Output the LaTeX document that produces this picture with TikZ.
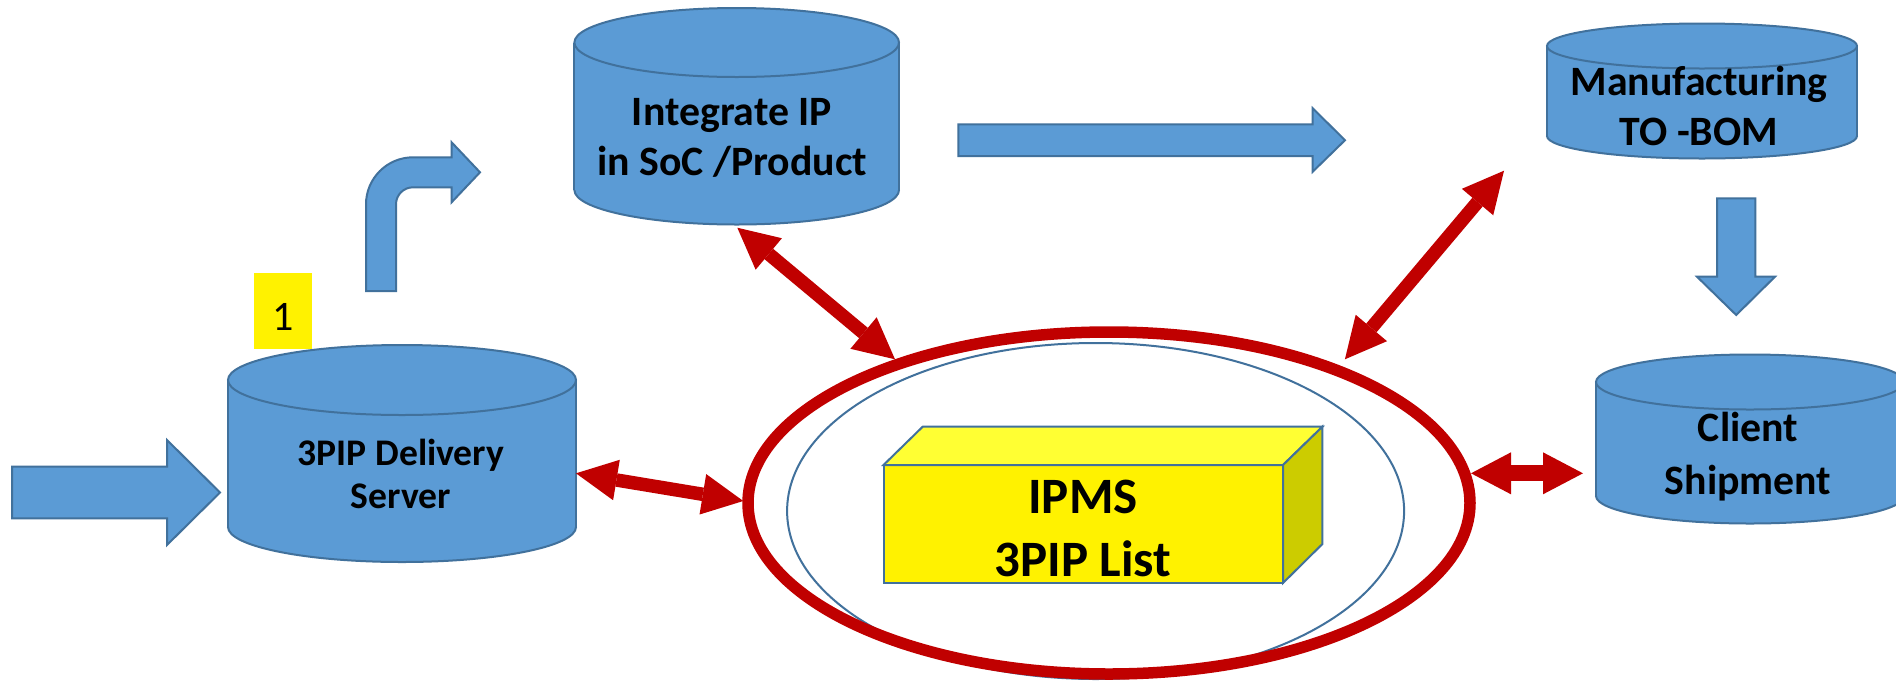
\documentclass[tikz,border=0pt]{standalone}
\usepackage{fontspec}
\setmainfont{Carlito}
\usetikzlibrary{arrows.meta}
\definecolor{cylblue}{HTML}{5B9BD5}
\definecolor{edgeblue}{HTML}{41719C}
\definecolor{darkred}{HTML}{C00000}
\definecolor{cubetop}{HTML}{FFFF33}
\definecolor{cubeside}{HTML}{CCCC00}
\tikzset{
  cylfill/.style={fill=cylblue},
  cyledge/.style={draw=edgeblue, line width=2pt},
  blockarrow/.style={fill=cylblue, draw=edgeblue, line width=2pt, line join=miter},
  redarrow/.style={draw=darkred, line width=13.5pt,
    {Triangle[length=41pt,width=41pt,line width=0pt]}-{Triangle[length=41pt,width=41pt,line width=0pt]}},
  lbl/.style={align=center, anchor=base, inner sep=0pt},
}
\newcommand{\mycyl}[5]{%
  \fill[cylfill] (#1,#4) ellipse [x radius=#2, y radius=#5];
  \fill[cylfill] (#1-#2,#3) rectangle (#1+#2,#4);
  \begin{scope}
    \clip (#1-#2-5,#4) rectangle (#1+#2+5,#4+#5+5);
    \draw[cyledge] (#1,#4) ellipse [x radius=#2, y radius=#5];
  \end{scope}
  \draw[cyledge] (#1-#2,#3) -- (#1-#2,#4) (#1+#2,#3) -- (#1+#2,#4);
  \filldraw[cylfill,cyledge] (#1,#3) ellipse [x radius=#2, y radius=#5];
}
\begin{document}
\begin{tikzpicture}[x=1pt,y=-1pt]
\useasboundingbox (0,0) rectangle (1896,681);
\fill[white] (0,0) rectangle (1896,681);

% cylinders
\mycyl{402}{174}{380}{527}{35}
\mycyl{736.7}{162.3}{42.5}{190}{34.5}
\mycyl{1702}{155}{46}{136}{22.5}
\mycyl{1750}{154}{382}{496}{27.5}

% text of cylinders (anchor base = baseline of last line)
\node[lbl, font=\bfseries\fontsize{37.6}{43}\selectfont] (t3pip) at (401,508) {3PIP Delivery\\Server};
\node[lbl, font=\bfseries\fontsize{41.8}{50.7}\selectfont] (tint) at (732,175.7) {Integrate IP\\in SoC /Product};
\node[lbl, font=\bfseries\fontsize{41.8}{50}\selectfont] (tman) at (1699,145) {Manufacturing\\TO -BOM};
\node[lbl, font=\bfseries\fontsize{41.8}{52.3}\selectfont] (tcli) at (1748,494) {Client\\Shipment};

% yellow number tag
\node[anchor=base, fill=yellow, inner sep=0pt, minimum width=57.3pt,
      text height=57pt, text depth=19pt, font=\fontsize{42}{50}\selectfont] (one) at (283,330) {1};

% blue block arrows
\draw[blockarrow] (12,466.7) -- (167,466.7) -- (167,440) -- (220,492.5) -- (167,545) -- (167,518.3) -- (12,518.3) -- cycle;
\draw[blockarrow] (366,291) -- (366,204.3) .. controls (366,178.4) and (387.1,157.3) .. (413,157.3)
  -- (451.6,157.3) -- (451.6,142.3) -- (480,172.3) -- (451.6,202.3) -- (451.6,187.3) -- (413,187.3)
  .. controls (403.6,187.3) and (396,194.9) .. (396,204.3) -- (396,291) -- cycle;
\draw[blockarrow] (958.3,124.3) -- (1312.7,124.3) -- (1312.7,108.3) -- (1345,140.2) -- (1312.7,171.7) -- (1312.7,156) -- (958.3,156) -- cycle;
\draw[blockarrow] (1717,198.3) -- (1755.4,198.3) -- (1755.4,276.7) -- (1775,276.7) -- (1736.2,315) -- (1697,276.7) -- (1717,276.7) -- cycle;

% IPMS ellipses
\draw[edgeblue, line width=2pt] (1095.6,511) ellipse [x radius=308.5, y radius=168];
\draw[darkred, line width=11.5pt] (1109,503) ellipse [x radius=361, y radius=171];

% cube
\filldraw[fill=yellow, draw=edgeblue, line width=2pt, line join=miter] (883.5,465) rectangle (1283,583);
\filldraw[fill=cubetop, draw=edgeblue, line width=2pt, line join=miter] (883.5,465) -- (922.7,426.7) -- (1322.4,426.7) -- (1283,465) -- cycle;
\filldraw[fill=cubeside, draw=edgeblue, line width=2pt, line join=miter] (1283,465) -- (1322.4,426.7) -- (1322.4,544) -- (1283,583) -- cycle;
\node[lbl, font=\bfseries\fontsize{51}{63.7}\selectfont] (tipms) at (1083,576.7) {IPMS\\3PIP List};

% red connector ends
\coordinate (intA) at (737.3,227.7);
\coordinate (intB) at (895,359.3);
\coordinate (delA) at (576,473.3);
\coordinate (delB) at (743.3,501);
\coordinate (manA) at (1504,170.7);
\coordinate (manB) at (1344.9,359.3);
\coordinate (cliA) at (1471,473.3);
\coordinate (cliB) at (1583,473.3);

\draw[redarrow] (intA) -- (intB);
\draw[redarrow] (delA) -- (delB);
\draw[redarrow] (manA) -- (manB);
\draw[draw=darkred, line width=16pt,
  {Triangle[length=40pt,width=42pt,line width=0pt]}-{Triangle[length=40pt,width=42pt,line width=0pt]}] (cliA) -- (cliB);
\end{tikzpicture}
\end{document}
